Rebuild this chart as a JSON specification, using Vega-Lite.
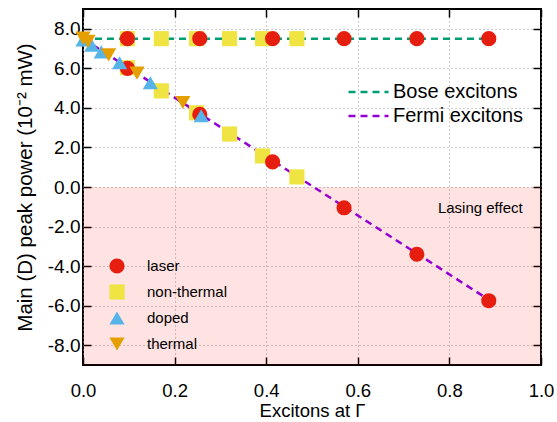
{
  "$schema": "https://vega.github.io/schema/vega-lite/v6.json",
  "width": 458,
  "height": 356,
  "autosize": {"type": "none"},
  "padding": {"left": 83, "top": 9, "right": 16, "bottom": 57},
  "config": {
    "font": "Liberation Sans",
    "view": {"stroke": "black", "strokeWidth": 2},
    "axis": {
      "labelFont": "Liberation Sans",
      "titleFont": "Liberation Sans",
      "labelColor": "black",
      "titleColor": "black",
      "titleFontWeight": "normal",
      "tickColor": "black",
      "tickWidth": 1.5,
      "domain": false,
      "gridColor": "#9a9a9a",
      "gridDash": [1, 3],
      "gridWidth": 1
    },
    "legend": {"labelFont": "Liberation Sans", "labelColor": "black", "padding": 0}
  },
  "datasets": {
    "region": [{"x0": 0, "x1": 1, "y0": 0, "y1": -9}],
    "lines": [
      {"series": "Bose excitons", "x": 0, "y": 7.5},
      {"series": "Bose excitons", "x": 0.9, "y": 7.5},
      {"series": "Fermi excitons", "x": 0, "y": 7.5},
      {"series": "Fermi excitons", "x": 0.89, "y": -5.76}
    ],
    "points": [
      {"type": "non-thermal", "x": 0.097, "y": 7.5},
      {"type": "non-thermal", "x": 0.171, "y": 7.5},
      {"type": "non-thermal", "x": 0.248, "y": 7.5},
      {"type": "non-thermal", "x": 0.32, "y": 7.5},
      {"type": "non-thermal", "x": 0.392, "y": 7.5},
      {"type": "non-thermal", "x": 0.467, "y": 7.5},
      {"type": "non-thermal", "x": 0.097, "y": 6.03},
      {"type": "non-thermal", "x": 0.171, "y": 4.86},
      {"type": "non-thermal", "x": 0.248, "y": 3.75},
      {"type": "non-thermal", "x": 0.32, "y": 2.68},
      {"type": "non-thermal", "x": 0.392, "y": 1.57},
      {"type": "non-thermal", "x": 0.467, "y": 0.51},
      {"type": "laser", "x": 0.097, "y": 7.5},
      {"type": "laser", "x": 0.255, "y": 7.5},
      {"type": "laser", "x": 0.414, "y": 7.5},
      {"type": "laser", "x": 0.57, "y": 7.5},
      {"type": "laser", "x": 0.729, "y": 7.5},
      {"type": "laser", "x": 0.886, "y": 7.5},
      {"type": "laser", "x": 0.097, "y": 6.0},
      {"type": "laser", "x": 0.255, "y": 3.67},
      {"type": "laser", "x": 0.414, "y": 1.27},
      {"type": "laser", "x": 0.57, "y": -1.05},
      {"type": "laser", "x": 0.729, "y": -3.4},
      {"type": "laser", "x": 0.886, "y": -5.75},
      {"type": "doped", "x": 0.0, "y": 7.44},
      {"type": "doped", "x": 0.019, "y": 7.17},
      {"type": "doped", "x": 0.04, "y": 6.83},
      {"type": "doped", "x": 0.08, "y": 6.28},
      {"type": "doped", "x": 0.147, "y": 5.27},
      {"type": "doped", "x": 0.258, "y": 3.6},
      {"type": "thermal", "x": 0.0, "y": 7.53},
      {"type": "thermal", "x": 0.011, "y": 7.36},
      {"type": "thermal", "x": 0.056, "y": 6.68},
      {"type": "thermal", "x": 0.118, "y": 5.76},
      {"type": "thermal", "x": 0.218, "y": 4.27}
    ],
    "notes": [{"x": 0.96, "y": -1.05, "label": "Lasing effect"}]
  },
  "layer": [
    {
      "data": {"name": "region"},
      "mark": {"type": "rect", "fill": "#ff0000", "fillOpacity": 0.115},
      "encoding": {
        "x": {
          "field": "x0", "type": "quantitative",
          "scale": {"domain": [0, 1], "nice": false, "zero": false},
          "axis": {
            "orient": "bottom",
            "values": [0, 0.2, 0.4, 0.6, 0.8, 1],
            "labelExpr": "format(datum.value, '.1f')",
            "labelFontSize": 18.5,
            "labelFlush": false,
            "title": "Excitons at Γ",
            "titleFontSize": 18.5,
            "titlePadding": 2,
            "grid": true,
            "tickSize": -8,
            "labelPadding": 24
          }
        },
        "x2": {"field": "x1"},
        "y": {
          "field": "y0", "type": "quantitative",
          "scale": {"domain": [-9, 9], "nice": false, "zero": false},
          "axis": {
            "orient": "left",
            "values": [-8, -6, -4, -2, 0, 2, 4, 6, 8],
            "labelExpr": "replace(format(datum.value, '.1f'), '−', '-')",
            "labelFontSize": 19,
            "title": "Main (D) peak power (10⁻² mW)",
            "titleFontSize": 20.5,
            "titlePadding": 12,
            "grid": true,
            "tickSize": -8,
            "labelPadding": 11
          }
        },
        "y2": {"field": "y1"}
      }
    },
    {
      "data": {"name": "lines"},
      "mark": {"type": "line", "strokeDash": [7, 5], "strokeWidth": 2.5},
      "encoding": {
        "x": {
          "field": "x", "type": "quantitative",
          "axis": {"orient": "top", "values": [0, 0.2, 0.4, 0.6, 0.8, 1], "labels": false, "title": null, "grid": false, "tickSize": -8}
        },
        "y": {
          "field": "y", "type": "quantitative",
          "axis": {"orient": "right", "values": [-8, -6, -4, -2, 0, 2, 4, 6, 8], "labels": false, "title": null, "grid": false, "tickSize": -8}
        },
        "stroke": {
          "field": "series", "type": "nominal",
          "scale": {"domain": ["Bose excitons", "Fermi excitons"], "range": ["#009e73", "#9400d3"]},
          "legend": {
            "orient": "none", "legendX": 264, "legendY": 73, "title": null,
            "labelFontSize": 20, "symbolType": "stroke", "symbolSize": 1600,
            "symbolDash": [7, 5], "symbolStrokeWidth": 2.5, "rowPadding": 4, "clipHeight": 20, "labelOffset": 3
          }
        }
      }
    },
    {
      "data": {"name": "points"},
      "mark": {"type": "point", "filled": true, "size": 230, "opacity": 1, "strokeWidth": 0},
      "encoding": {
        "x": {"field": "x", "type": "quantitative", "axis": null},
        "y": {"field": "y", "type": "quantitative", "axis": null},
        "fill": {
          "field": "type", "type": "nominal",
          "scale": {"domain": ["laser", "non-thermal", "doped", "thermal"], "range": ["#e51e10", "#f0e442", "#56b4e9", "#e69f00"]},
          "legend": {
            "orient": "none", "legendX": 26, "legendY": 249, "title": null,
            "labelFontSize": 15, "symbolSize": 230, "rowPadding": 10, "labelOffset": 22, "symbolStrokeWidth": 0, "symbolOpacity": 1
          }
        },
        "shape": {
          "field": "type", "type": "nominal",
          "scale": {"domain": ["laser", "non-thermal", "doped", "thermal"], "range": ["circle", "square", "triangle-up", "triangle-down"]},
          "legend": {
            "orient": "none", "legendX": 26, "legendY": 249, "title": null,
            "labelFontSize": 15, "symbolSize": 230, "rowPadding": 10, "labelOffset": 22, "symbolStrokeWidth": 0, "symbolOpacity": 1
          }
        }
      }
    },
    {
      "data": {"name": "notes"},
      "mark": {"type": "text", "align": "right", "baseline": "middle", "fontSize": 15, "color": "black"},
      "encoding": {
        "x": {"field": "x", "type": "quantitative", "axis": null},
        "y": {"field": "y", "type": "quantitative", "axis": null},
        "text": {"field": "label"}
      }
    }
  ],
  "resolve": {"axis": {"x": "independent", "y": "independent"}}
}
